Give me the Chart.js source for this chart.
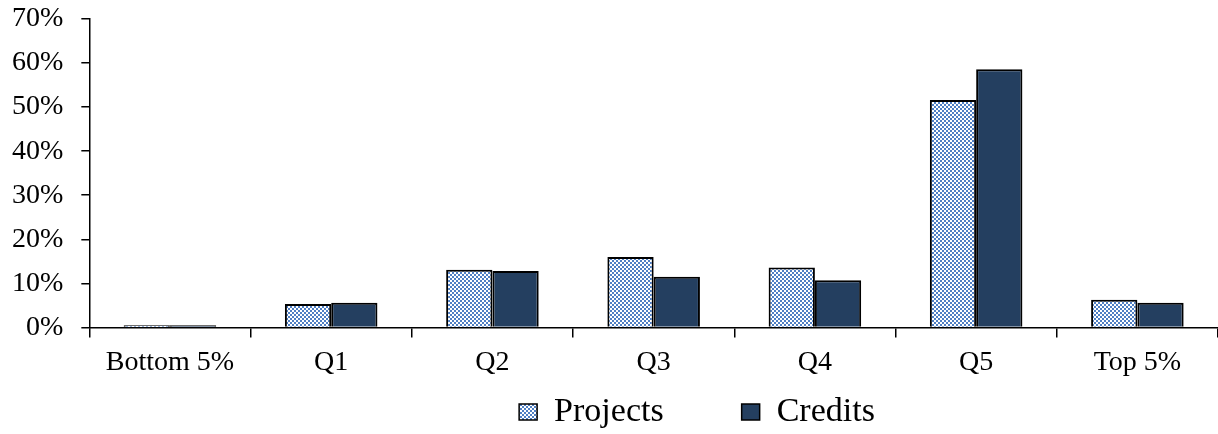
<!DOCTYPE html>
<html>
<head>
<meta charset="utf-8">
<script src="https://cdn.jsdelivr.net/npm/chart.js@4"></script>
<style>
  html, body { margin: 0; padding: 0; background: #fff; }
  #wrap { width: 1218px; height: 434px; }
</style>
</head>
<body>
<div id="wrap"><canvas id="chart"></canvas></div>
<script>
const categories = ['Bottom 5%', 'Q1', 'Q2', 'Q3', 'Q4', 'Q5', 'Top 5%'];
const projects = [0.5, 5.3, 13.1, 16.0, 13.6, 51.6, 6.3];
const credits = [0.5, 5.6, 12.8, 11.5, 10.7, 58.6, 5.6];
const seriesNames = ['Projects', 'Credits'];

// dotted fill for the projects bars
const makePattern = () => {
    const c = document.createElement('canvas');
    c.width = 4;
    c.height = 4;
    const g = c.getContext('2d');
    g.fillStyle = '#ffffff';
    g.fillRect(0, 0, 4, 4);
    g.fillStyle = '#4f7fc4';
    g.fillRect(0, 0, 2, 2);
    g.fillRect(2, 2, 2, 2);
    return g.createPattern(c, 'repeat');
}

// the legend in the original sits right of centre
const shiftLegend = {
    id: 'shiftLegend',
    afterLayout(chart) {
        const l = chart.legend;
        l.left += 88;
        l.right += 88;
        l.top += -2;
        l.bottom += -2;
    }
}

Chart.defaults.font.family = "'Liberation Serif', 'Times New Roman', serif";
Chart.defaults.color = '#000';

const ctx = document.getElementById('chart');
new Chart(ctx, {
    type: 'bar',
    data: {
        labels: categories,
        datasets: [{
                label: seriesNames[0],
                data: projects,
                backgroundColor: makePattern(),
                borderColor: '#000',
                borderWidth: 2,
                categoryPercentage: 0.574,
                barPercentage: 1
            }, {
                label: seriesNames[1],
                data: credits,
                backgroundColor: '#243f60',
                borderColor: '#000',
                borderWidth: 2,
                categoryPercentage: 0.574,
                barPercentage: 1
            }]
    },
    plugins: [shiftLegend],
    options: {
        responsive: true,
        maintainAspectRatio: false,
        animation: false,
        layout: { padding: { left: -6, right: -6, top: 0, bottom: -7 } },
        plugins: {
            tooltip: { enabled: false },
            legend: {
                position: 'bottom',
                labels: {
                    font: { size: 34 },
                    boxWidth: 18,
                    boxHeight: 16,
                    padding: 10,
                    color: '#000',
                    generateLabels: chart => {
                        const items = Chart.defaults.plugins.legend.labels.generateLabels(chart);
                        items[0].text = items[0].text + '\u2003\u2003';
                        items.forEach(it => { it.lineWidth = 1.5; });
                        return items;
                    }
                }
            }
        },
        scales: {
            x: {
                border: { color: '#000', width: 1.5 },
                grid: { drawOnChartArea: false, color: '#000', lineWidth: 1.5, tickLength: 10, offset: true },
                ticks: { font: { size: 28 }, color: '#000', padding: 8, maxRotation: 0 },
                afterFit: s => { s.paddingRight = -6; }
            },
            y: {
                min: 0,
                max: 70,
                border: { color: '#000', width: 1.5 },
                grid: { drawOnChartArea: false, color: '#000', lineWidth: 1.5, tickLength: 8 },
                ticks: { stepSize: 10, font: { size: 28 }, color: '#000', padding: 18,
                    callback: v => v + '%' },
                afterFit: s => { s.paddingTop = 19; }
            }
        }
    }
});
</script>
</body>
</html>
